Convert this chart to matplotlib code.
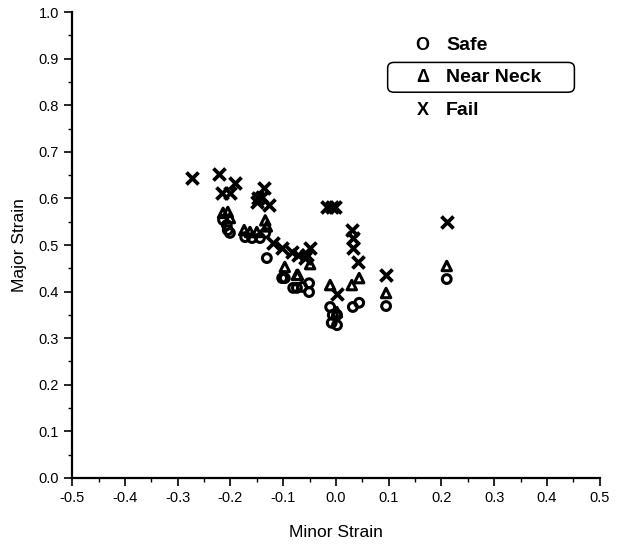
import matplotlib
matplotlib.use('Agg')
import matplotlib.pyplot as plt
from matplotlib.ticker import MultipleLocator
from matplotlib.patches import FancyBboxPatch

plt.rcParams['font.family'] = ['Liberation Sans', 'DejaVu Sans']

# data
safe_x = [-0.214, -0.207, -0.205, -0.201, -0.172, -0.159, -0.144, -0.134, -0.131,
          -0.102, -0.097, -0.081, -0.074, -0.064, -0.051, -0.051, -0.011, -0.006,
          0.002, -0.008, 0.002, 0.032, 0.044, 0.095, 0.210]
safe_y = [0.554, 0.543, 0.532, 0.526, 0.517, 0.515, 0.515, 0.526, 0.472,
          0.429, 0.429, 0.408, 0.408, 0.410, 0.418, 0.399, 0.367, 0.350,
          0.350, 0.333, 0.328, 0.367, 0.376, 0.369, 0.427]

neck_x = [-0.214, -0.205, -0.201, -0.174, -0.163, -0.150, -0.134, -0.131,
          -0.097, -0.074, -0.072, -0.049, -0.011, 0.002, 0.030, 0.044, 0.095, 0.210]
neck_y = [0.569, 0.571, 0.558, 0.532, 0.528, 0.528, 0.553, 0.540,
          0.453, 0.436, 0.436, 0.459, 0.414, 0.356, 0.414, 0.429, 0.397, 0.455]

fail_x = [-0.273, -0.222, -0.216, -0.201, -0.191, -0.136, -0.148, -0.150, -0.140,
          -0.127, -0.119, -0.102, -0.083, -0.072, -0.055, -0.049, -0.059, -0.017,
          -0.008, -0.002, 0.030, 0.032, 0.032, 0.042, 0.002, 0.095, 0.210]
fail_y = [0.644, 0.652, 0.612, 0.612, 0.633, 0.622, 0.601, 0.592, 0.603,
          0.586, 0.504, 0.494, 0.485, 0.479, 0.479, 0.494, 0.472, 0.582,
          0.582, 0.582, 0.532, 0.515, 0.494, 0.464, 0.395, 0.436, 0.549]

legend_labels = ['Safe', 'Near Neck', 'Fail']
legend_symbols = ['O', 'Δ', 'X']

fig = plt.figure(figsize=(6.17, 5.5), dpi=100)
ax = fig.add_axes([0.117, 0.131, 0.855, 0.847])

ax.scatter(safe_x, safe_y, marker='o', s=40, facecolors='none', edgecolors='black', linewidths=2.2)
ax.scatter(neck_x, neck_y, marker='^', s=46, facecolors='none', edgecolors='black', linewidths=2.2)
ax.scatter(fail_x, fail_y, marker='x', s=75, color='black', linewidths=2.7)

ax.set_xlim(-0.5, 0.5)
ax.set_ylim(0.0, 1.0)
ax.xaxis.set_major_locator(MultipleLocator(0.1))
ax.xaxis.set_minor_locator(MultipleLocator(0.05))
ax.yaxis.set_major_locator(MultipleLocator(0.1))
ax.yaxis.set_minor_locator(MultipleLocator(0.05))
ax.set_xticklabels([f'{v:.1f}' for v in ax.get_xticks()])
ax.set_yticklabels([f'{v:.1f}' for v in ax.get_yticks()])
ax.tick_params(which='major', direction='out', length=6, width=1.2, labelsize=10.5)
ax.tick_params(which='minor', direction='out', length=3, width=1)
for s in ['top', 'right']:
    ax.spines[s].set_visible(False)
for s in ['left', 'bottom']:
    ax.spines[s].set_linewidth(1.6)

ax.set_xlabel('Minor Strain', fontsize=12.5, labelpad=14)
ax.set_ylabel('Major Strain', fontsize=12.5, labelpad=8)

# legend drawn as text, like the original
rows_y = [0.929, 0.860, 0.789]
for sym, lab, yy in zip(legend_symbols, legend_labels, rows_y):
    ax.text(0.664, yy, sym, transform=ax.transAxes, fontsize=13, fontweight='bold',
            ha='center', va='center')
    ax.text(0.709, yy, lab, transform=ax.transAxes, fontsize=14, fontweight='bold',
            ha='left', va='center')
box = FancyBboxPatch((0.598, 0.828), 0.354, 0.064, transform=ax.transAxes,
                     boxstyle='round,pad=0,rounding_size=0.012', facecolor='none',
                     edgecolor='black', linewidth=1.1)
ax.add_patch(box)

fig.savefig('out.png', dpi=100)
